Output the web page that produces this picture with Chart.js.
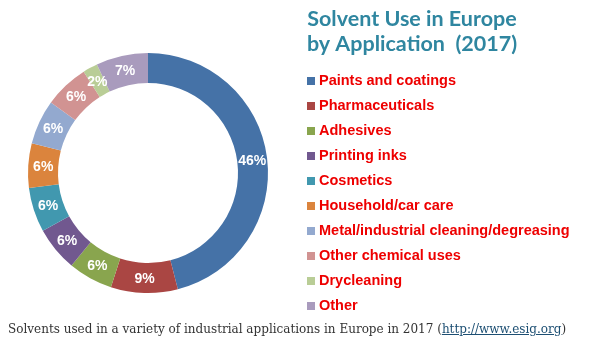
<!DOCTYPE html>
<html>
<head>
<meta charset="utf-8">
<script src="https://cdn.jsdelivr.net/npm/chart.js@4/dist/chart.umd.min.js"></script>
<style>
  html, body { margin: 0; padding: 0; background: #fff; }
  #wrap { position: relative; width: 589px; height: 351px; overflow: hidden; }
  #chart { position: absolute; left: 0; top: 0; }
  #caption {
    position: absolute; left: 8px; top: 322px; white-space: nowrap;
    font-family: "DejaVu Serif", serif; font-size: 12px; color: #333;
  }
  #caption a { color: #1d4f73; text-decoration: underline; }
</style>
</head>
<body>
<div id="wrap">
  <canvas id="chart" width="589" height="351"></canvas>
  <div id="caption">Solvents used in a variety of industrial applications in Europe in 2017 (<a>http://www.esig.org</a>)</div>
</div>
<script>
const categories = [
  "Paints and coatings",
  "Pharmaceuticals",
  "Adhesives",
  "Printing inks",
  "Cosmetics",
  "Household/car care",
  "Metal/industrial cleaning/degreasing",
  "Other chemical uses",
  "Drycleaning",
  "Other",
];
const shares = [46, 9, 6, 6, 6, 6, 6, 6, 2, 7];
const titleLines = ["Solvent Use in Europe", "by Application  (2017)"];

const sliceColors = [
  "#4572a7", "#aa4643", "#89a54e", "#71588f", "#4198af",
  "#db843d", "#93a9cf", "#d19392", "#b9cd96", "#a99bbd",
];

// slice labels + title + legend drawn on top of the doughnut
const overlay = {
  id: "overlay",
  afterDraw(chart) {
    const ctx = chart.ctx;
    const meta = chart.getDatasetMeta(0);
    const values = chart.data.datasets[0].data;

    ctx.save();
    ctx.fillStyle = "#fff";
    ctx.font = "bold 14px 'Liberation Sans', Arial, sans-serif";
    ctx.textAlign = "center";
    ctx.textBaseline = "middle";
    meta.data.forEach((arc, i) => {
      const p = arc.getCenterPoint();
      ctx.fillText(`${values[i]}%`, p.x, p.y + 1);
    });

    ctx.fillStyle = "#2f86a0";
    ctx.font = "bold 21.5px Lato, sans-serif";
    ctx.textBaseline = "alphabetic";
    ctx.fillText(titleLines[0], 412, 26);
    ctx.fillText(titleLines[1], 412, 51);

    ctx.textAlign = "left";
    ctx.textBaseline = "middle";
    ctx.font = "bold 14.5px 'Liberation Sans', Arial, sans-serif";
    chart.data.labels.forEach((label, i) => {
      const y = 81 + i * 25;
      ctx.fillStyle = chart.data.datasets[0].backgroundColor[i];
      ctx.fillRect(307, y - 4, 8, 8);
      ctx.fillStyle = "#ee0000";
      ctx.fillText(label, 319, y);
    });
    ctx.restore();
  },
};

new Chart(document.getElementById("chart"), {
  type: "doughnut",
  data: {
    labels: categories,
    datasets: [
      {
        data: shares,
        backgroundColor: sliceColors,
        borderWidth: 0,
      },
    ],
  },
  options: {
    responsive: false,
    animation: false,
    cutout: "75%",
    layout: { padding: { left: 28, right: 321, top: 53, bottom: 58 } },
    plugins: {
      legend: { display: false },
      tooltip: { enabled: false },
      title: { display: false },
    },
  },
  plugins: [overlay],
});
</script>
</body>
</html>
